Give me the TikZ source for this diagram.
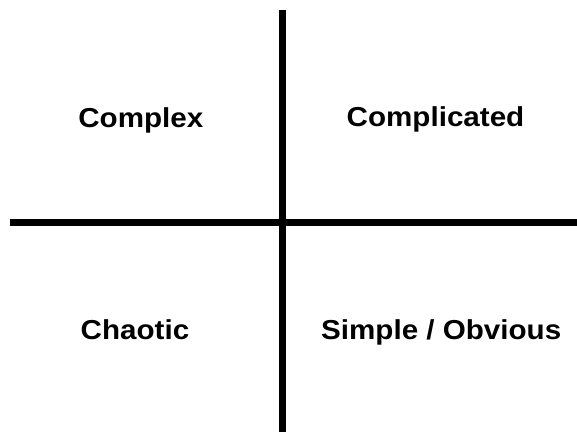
\documentclass[tikz,border=0pt]{standalone}
\usepackage{fontspec}
\setmainfont{Liberation Sans}
\begin{document}
\begin{tikzpicture}[x=1bp,y=-1bp,
  axis/.style={line width=6.6bp,black},
  label/.style={anchor=base,inner sep=0pt,font=\bfseries\fontsize{27.5}{30}\selectfont,xscale=1.08}]
\useasboundingbox[fill=white] (0,0) rectangle (577,432);
\coordinate (vt) at (282.7,9.5);
\coordinate (vb) at (282.7,432);
\coordinate (hl) at (9.5,222.7);
\coordinate (hr) at (577,222.7);
\draw[axis] (vt) -- (vb);
\draw[axis] (hl) -- (hr);
\node[label] (complex) at (140.8,127.2) {Complex};
\node[label] (complicated) at (435.5,126.8) {Complicated};
\node[label] (chaotic) at (135,339.3) {Chaotic};
\node[label] (simple) at (441.2,339.2) {Simple / Obvious};
\end{tikzpicture}
\end{document}
